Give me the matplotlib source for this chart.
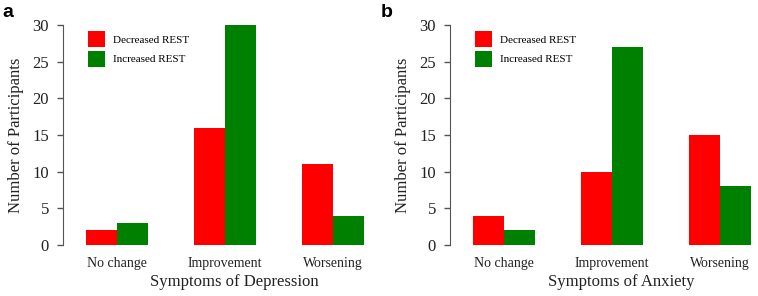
import matplotlib

matplotlib.use("Agg")
import matplotlib.pyplot as plt
import numpy as np

categories = ["No change", "Improvement", "Worsening"]
series_names = ["Decreased REST", "Increased REST"]
depression_decreased = [2, 16, 11]
depression_increased = [3, 30, 4]
anxiety_decreased = [4, 10, 15]
anxiety_increased = [2, 27, 8]

COLORS = {"Decreased REST": "#FF0000", "Increased REST": "#008000"}
TEXT = "#222222"

plt.rcParams.update({"font.family": ["Liberation Serif", "DejaVu Serif"]})


def draw_panel(ax, decreased, increased, xlabel):
    x = np.arange(len(categories))
    w = 0.287
    ax.bar(x - w / 2, decreased, width=w, color=COLORS[series_names[0]],
           label=series_names[0])
    ax.bar(x + w / 2, increased, width=w, color=COLORS[series_names[1]],
           label=series_names[1])

    ax.set_xlim(-0.5, 2.4)
    ax.set_ylim(0, 30)
    ax.set_yticks([0, 5, 10, 15, 20, 25, 30])
    ax.set_xticks(x)
    ax.set_xticklabels(categories, fontsize=10, color=TEXT)
    ax.tick_params(axis="x", length=0, pad=9)
    ax.tick_params(axis="y", length=4, width=1, color="#555555",
                   labelsize=12, labelcolor=TEXT, pad=6)

    for side in ("top", "right", "bottom"):
        ax.spines[side].set_visible(False)
    ax.spines["left"].set_color("#555555")
    ax.spines["left"].set_bounds(0, 30)

    ax.set_ylabel("Number of Participants", fontsize=12, color=TEXT, labelpad=6)
    ax.set_xlabel(xlabel, fontsize=12, color=TEXT)
    ax.xaxis.set_label_coords(0.546, -0.13)

    ax.legend(loc="upper left", bbox_to_anchor=(0.08, 0.973), frameon=False,
              fontsize=8, handlelength=1.5, handleheight=1.9,
              handletextpad=0.78, labelspacing=0.3, borderpad=0,
              borderaxespad=0)


fig = plt.figure(figsize=(7.58, 2.96), dpi=100)
ax_a = fig.add_axes([63 / 758, 51 / 296, 313 / 758, 220 / 296])
ax_b = fig.add_axes([450 / 758, 51 / 296, 313 / 758, 220 / 296])

draw_panel(ax_a, depression_decreased, depression_increased, "Symptoms of Depression")
draw_panel(ax_b, anxiety_decreased, anxiety_increased, "Symptoms of Anxiety")

fig.text(2 / 758, 279 / 296, "a", fontsize=14, fontweight="bold",
         family="Liberation Sans", va="baseline")
fig.text(381 / 758, 279 / 296, "b", fontsize=14, fontweight="bold",
         family="Liberation Sans", va="baseline")

fig.savefig("out.png", dpi=100)
